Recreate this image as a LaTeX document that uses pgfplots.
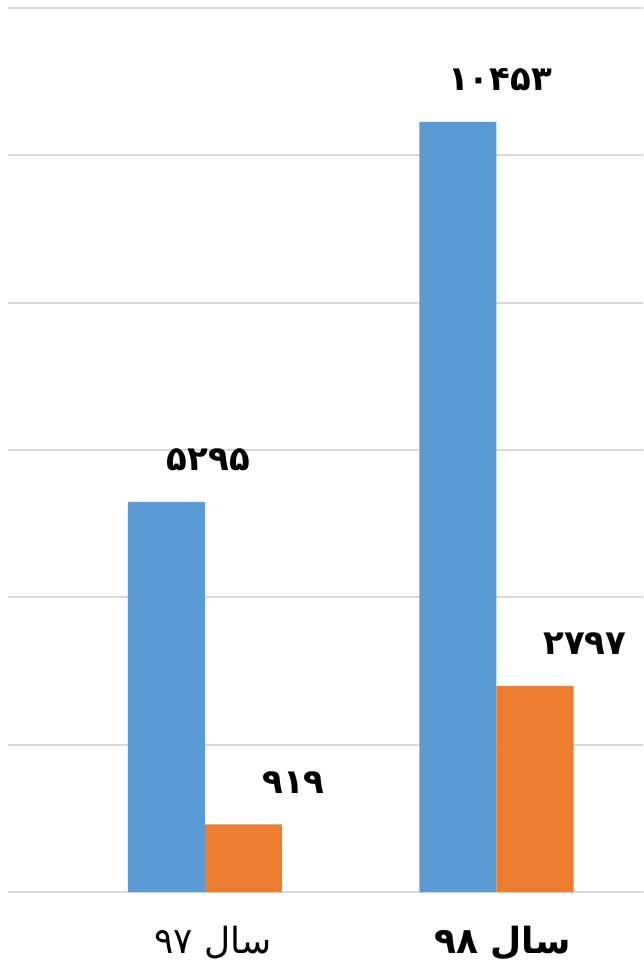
\documentclass[border=0pt]{standalone}
\usepackage{fontspec}
\usepackage{pgfplots}
\pgfplotsset{compat=1.18}
\TeXXeTstate=1
\newfontfamily\arabicfont[Script=Arabic]{DejaVu Sans}
\definecolor{barblue}{HTML}{5B9BD5}
\definecolor{barorange}{HTML}{ED7D31}
\definecolor{gridgray}{HTML}{D9D9D9}
\begin{document}
\begin{tikzpicture}
\path[use as bounding box] (0,0) rectangle (321.5pt,481.5pt);
\begin{axis}[
  at={(4pt,35.5pt)}, anchor=south west,
  scale only axis, width=317.5pt, height=442pt,
  xmin=-0.6758, xmax=1.5026, ymin=0, ymax=12000,
  ybar=0pt, bar width=38.5pt,
  axis line style={draw=none},
  ytick={0,2000,4000,6000,8000,10000,12000},
  yticklabels={},
  yticklabel style={inner sep=0pt, outer sep=0pt, font=\tiny},
  ymajorgrids, major grid style={draw=gridgray, line width=0.9pt},
  major tick length=0pt,
  xtick={0,1},
  xticklabels={{\hspace*{8pt}\fontsize{18}{20}\selectfont\arabicfont\beginR سال ۹۷\endR},
               {\hspace*{6pt}\fontsize{18}{20}\selectfont\arabicfont\bfseries\beginR سال ۹۸\endR}},
  xticklabel style={anchor=base, yshift=-30.5pt},
  nodes near coords,
  point meta=explicit symbolic,
  every node near coord/.append style={anchor=center, yshift=21pt,
     font=\fontsize{17}{20}\selectfont\arabicfont\bfseries, text=black},
  clip=false,
]
\addplot[fill=barblue, draw=none, every node near coord/.append style={xshift=21pt}]
  coordinates {(0,5295) [۵۲۹۵] (1,10453) [۱۰۴۵۳]};
\addplot[fill=barorange, draw=none, every node near coord/.append style={xshift=25pt}]
  coordinates {(0,919) [۹۱۹] (1,2797) [۲۷۹۷]};
\end{axis}
\end{tikzpicture}
\end{document}
